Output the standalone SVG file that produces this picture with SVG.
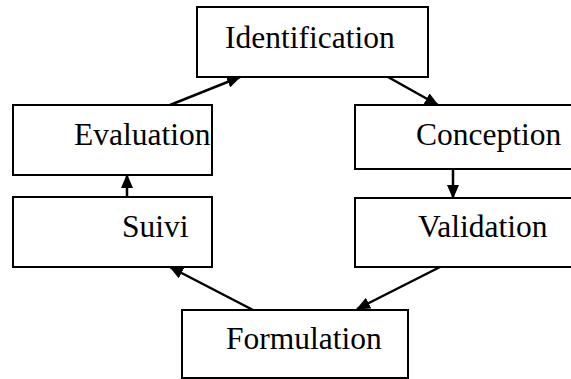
<svg xmlns="http://www.w3.org/2000/svg" width="571" height="379" viewBox="0 0 571 379">
<style>
.box{fill:#fff;stroke:#000;stroke-width:2}
.lbl{font-family:"Liberation Serif","Times New Roman",serif;font-size:31.5px;fill:#000}
.con{stroke:#000;stroke-width:2.5;fill:none}
</style>
<defs>
<marker id="ahb" markerWidth="14" markerHeight="12" refX="13" refY="6" orient="auto" markerUnits="userSpaceOnUse" viewBox="0 0 14 12">
<path d="M0,0 L14,6 L0,12 Z" fill="#000"/>
</marker>
</defs>
<rect width="571" height="379" fill="#fff"/>
<g id="n-identification"><rect class="box" x="197" y="7" width="231" height="70"/><text class="lbl" x="225" y="48">Identification</text></g>
<g id="n-evaluation"><rect class="box" x="13" y="105" width="199" height="70"/><text class="lbl" x="74" y="145">Evaluation</text></g>
<g id="n-suivi"><rect class="box" x="13" y="197" width="199" height="70"/><text class="lbl" x="122" y="237">Suivi</text></g>
<g id="n-conception"><rect class="box" x="355" y="105" width="220" height="64"/><text class="lbl" x="416" y="145">Conception</text></g>
<g id="n-validation"><rect class="box" x="355" y="198" width="220" height="69"/><text class="lbl" x="418" y="237">Validation</text></g>
<g id="n-formulation"><rect class="box" x="182" y="310" width="226" height="68"/><text class="lbl" x="226" y="349">Formulation</text></g>
<g id="connectors">
<line class="con" x1="170" y1="105" x2="240" y2="77" marker-end="url(#ahb)"/>
<line class="con" x1="388" y1="77" x2="438" y2="105" marker-end="url(#ahb)"/>
<line class="con" x1="453" y1="169" x2="453" y2="198" marker-end="url(#ahb)"/>
<line class="con" x1="440" y1="267" x2="357" y2="309" marker-end="url(#ahb)"/>
<line class="con" x1="253" y1="310" x2="170" y2="267" marker-end="url(#ahb)"/>
<line class="con" x1="127" y1="197" x2="127" y2="175" marker-end="url(#ahb)"/>
</g>
</svg>
